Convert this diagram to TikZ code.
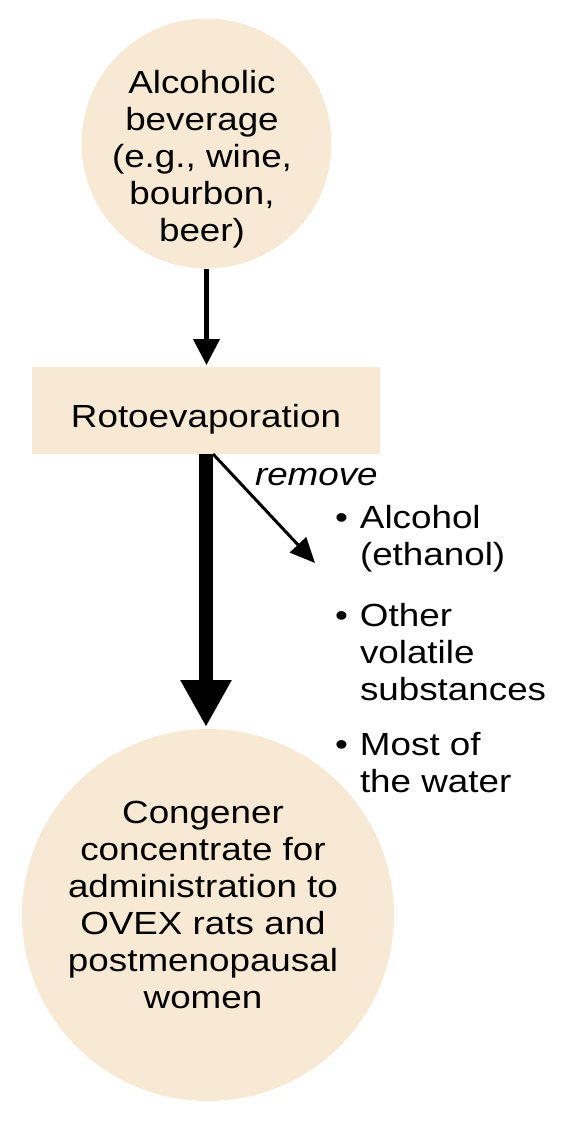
\documentclass[tikz,border=0pt]{standalone}
\usepackage{fontspec}
\setmainfont{Liberation Sans}[FakeStretch=1.15]
\usetikzlibrary{arrows.meta,calc}
\definecolor{beige}{RGB}{247,233,211}
\begin{document}
\begin{tikzpicture}[x=1pt,y=-1pt,
  every node/.style={font=\fontsize{32}{37}\selectfont, inner sep=0pt, outer sep=0pt},
  disc/.style={circle, fill=beige, draw=none},
  box/.style={rectangle, fill=beige, draw=none, minimum width=348pt, minimum height=87pt, text height=40pt, text depth=7pt},
  txt/.style={align=center, anchor=base},
  item/.style={align=left, anchor=base west},
  arr/.style={-{Triangle[length=26pt,width=26pt]}, line width=4.5pt},
  bigarr/.style={-{Triangle[length=47pt,width=48pt]}, line width=14pt},
  diagarr/.style={-{Triangle[length=25pt,width=22pt]}, line width=3pt}
]
\useasboundingbox (0,0) rectangle (564,1121);
\node[disc, minimum size=250pt] (bev) at (206.5,143.5) {};
\node[txt] (bevt) at (202,241) {Alcoholic\\beverage\\(e.g., wine,\\bourbon,\\beer)};
\node[box] (roto) at (206,410.5) {Rotoevaporation};
\node[disc, minimum size=372pt] (cong) at (208,915) {};
\node[txt] (congt) at (203,1008) {Congener\\concentrate for\\administration to\\OVEX rats and\\postmenopausal\\women};
\node[anchor=base west, font=\fontsize{32}{37}\selectfont\itshape] (rem) at (255,485) {remove};
\node[item] (b1) at (335,565) {\makebox[25pt][l]{•}Alcohol\\\hspace*{25pt}(ethanol)};
\node[item] (b2) at (335,700) {\makebox[25pt][l]{•}Other\\\hspace*{25pt}volatile\\\hspace*{25pt}substances};
\node[item] (b3) at (335,792) {\makebox[25pt][l]{•}Most of\\\hspace*{25pt}the water};
\draw[arr, shorten >=2pt] (bev.south) -- (bev.south |- roto.north);
\draw[bigarr, shorten >=2pt] (roto.south) -- (roto.south |- cong.north);
\coordinate (remtip) at (315,563);
\draw[diagarr] ($(roto.south)+(7,0)$) -- (remtip);
\end{tikzpicture}
\end{document}
